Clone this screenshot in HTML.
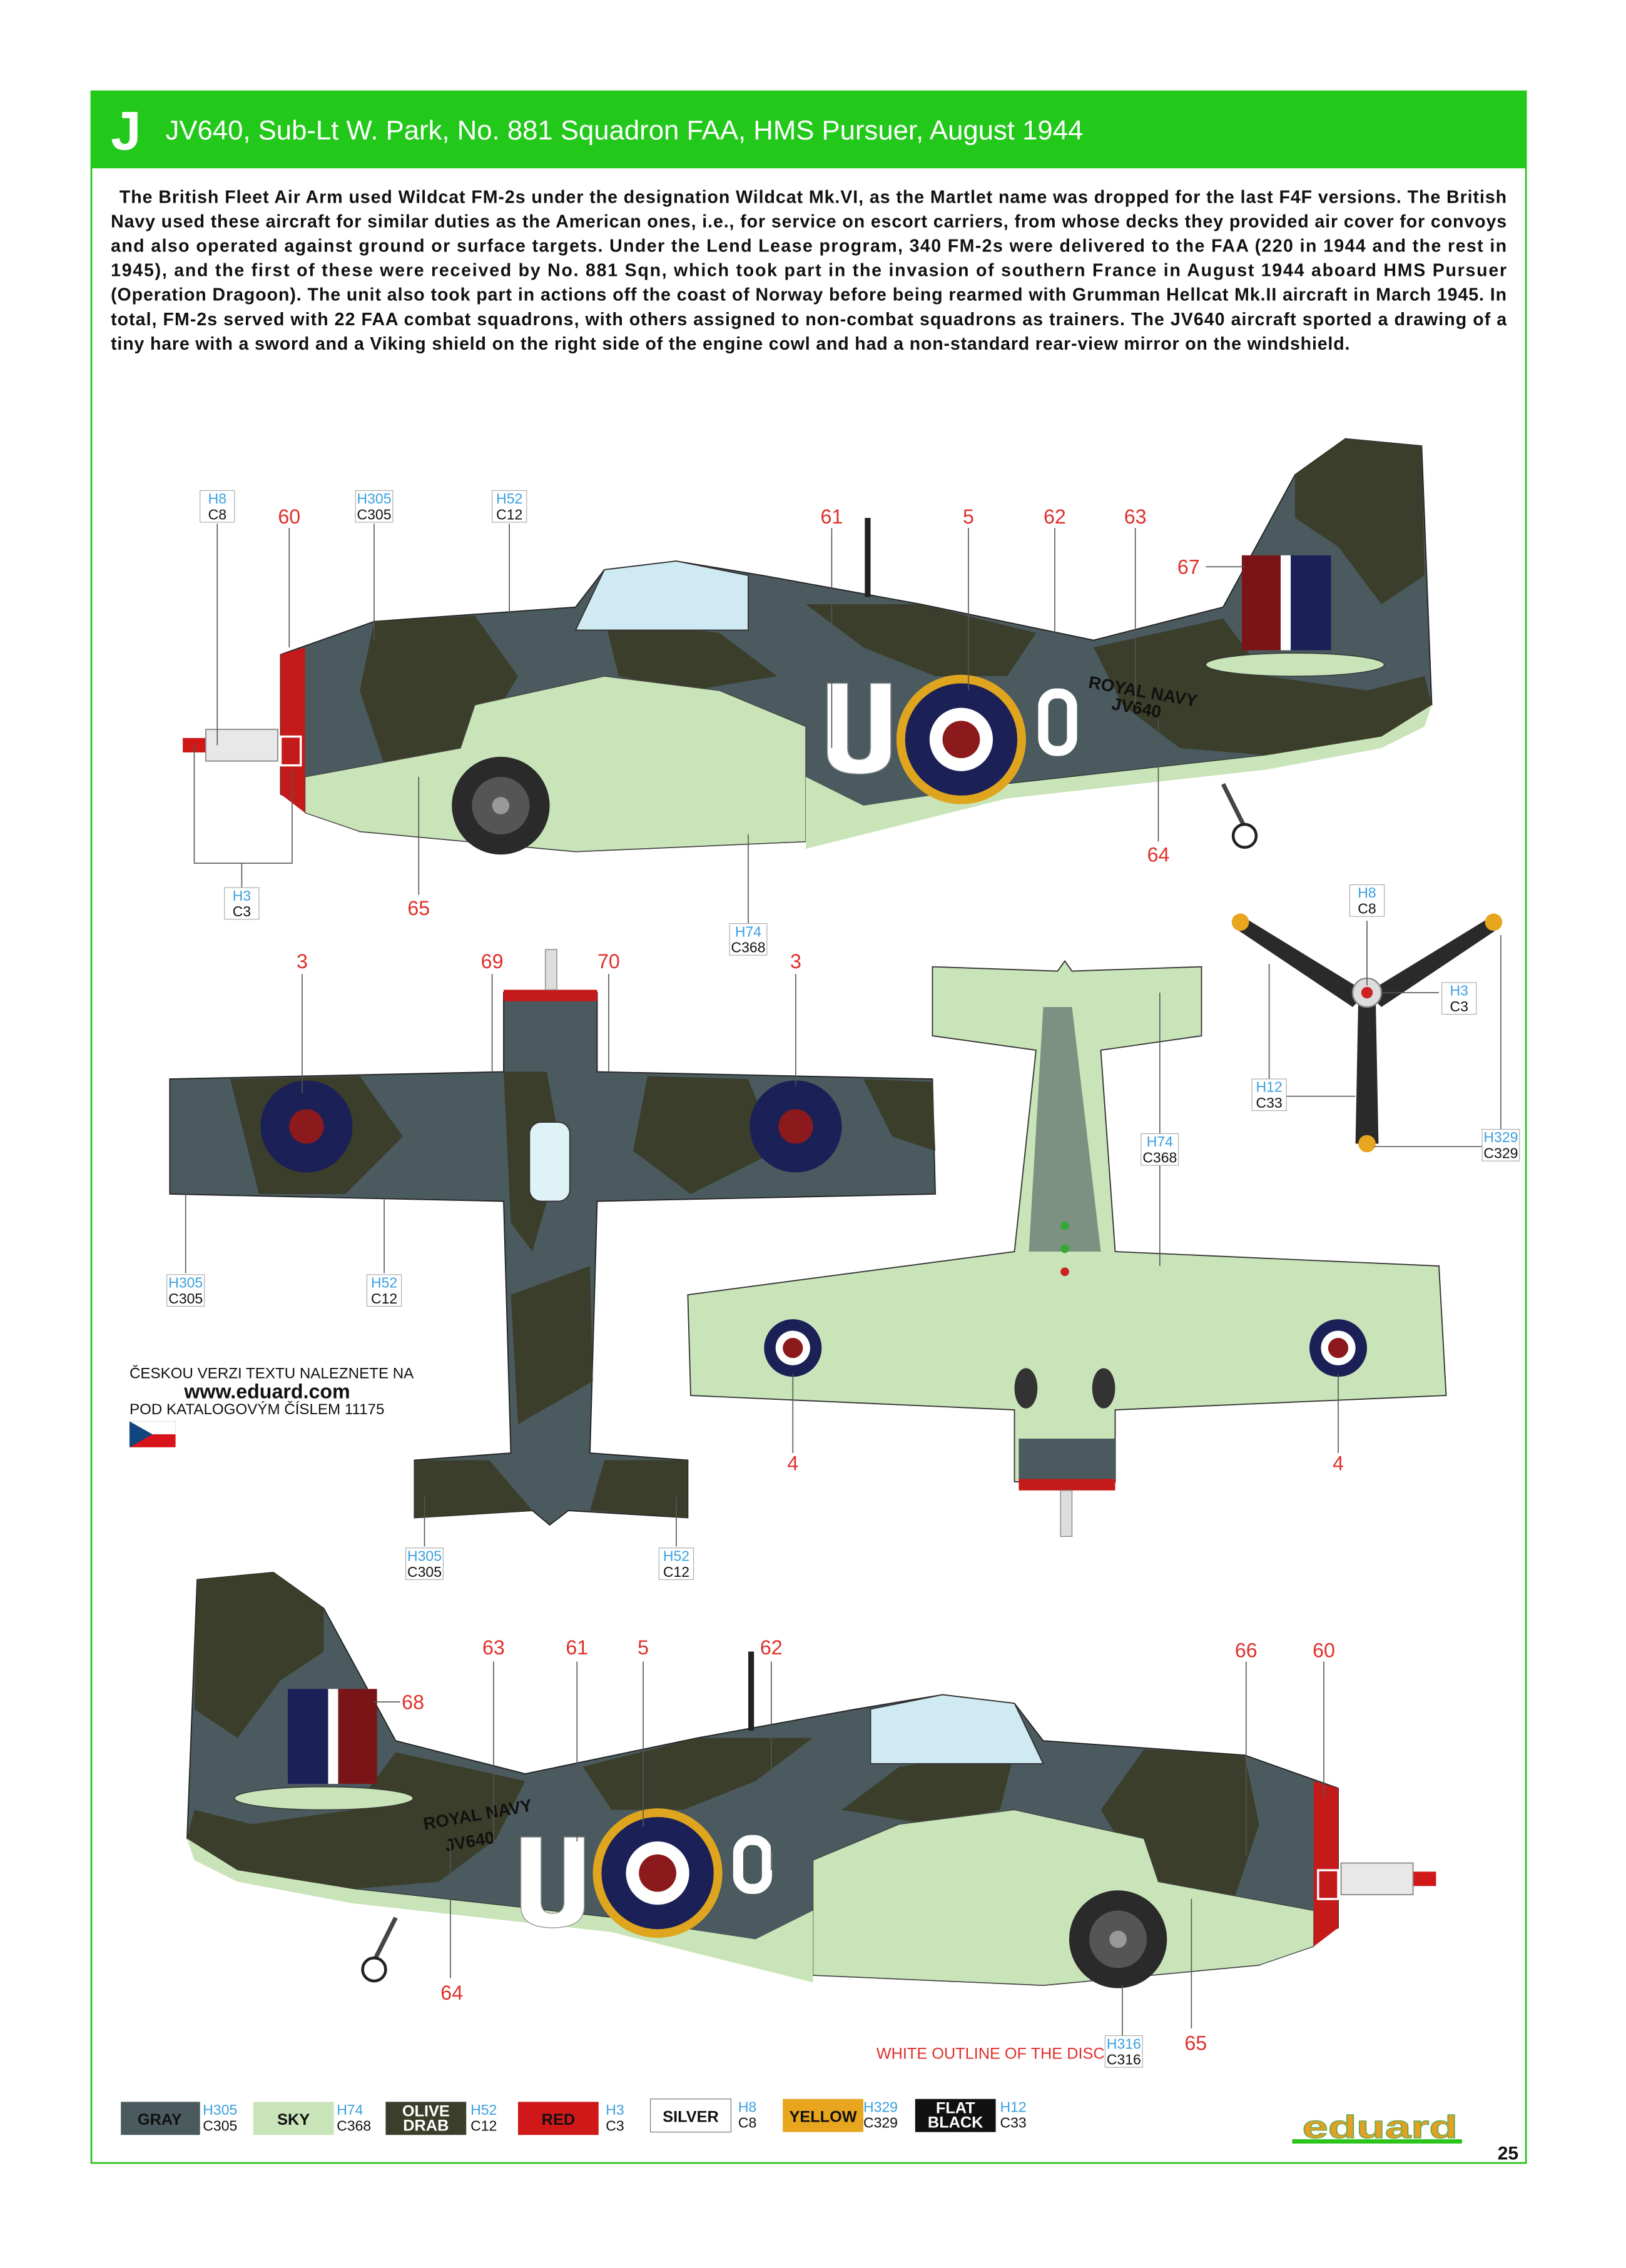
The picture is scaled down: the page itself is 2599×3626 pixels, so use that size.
<!DOCTYPE html>
<html><head><meta charset="utf-8"><style>
html,body{margin:0;padding:0;background:#fff}
svg{display:block}
text{font-family:"Liberation Sans",sans-serif}
</style></head><body>
<svg width="2599" height="3626" viewBox="0 0 1130 1576.5" preserveAspectRatio="none" xmlns="http://www.w3.org/2000/svg">
<defs>
<g id="roundel"><circle r="45" fill="#e0a51e"/><circle r="39" fill="#1b2156"/><circle r="22" fill="#fff"/><circle r="13" fill="#8c1a1c"/></g>
<g id="rnd2"><circle r="32" fill="#1b2156"/><circle r="12" fill="#8c1a1c"/></g>
<g id="rnd3"><circle r="20" fill="#1b2156"/><circle r="12" fill="#fff"/><circle r="7" fill="#8c1a1c"/></g>
<g id="side">
 <rect x="127" y="513" width="16" height="10" fill="#d01818"/>
 <rect x="143" y="507" width="50" height="22" fill="#e8e8e8" stroke="#888" stroke-width="0.8"/>
 <path d="M195 455 L260 432 L400 422 L420 396 L470 390 L530 400 L640 420 L760 445 L850 422 L900 330 L935 305 L988 310 L995 490 L960 512 L880 525 L700 545 L560 585 L400 592 L250 578 L195 552 Z" fill="#4b5a5f" stroke="#222" stroke-width="0.8"/>
 <path d="M935 305 L988 310 L990 400 L960 420 L930 380 L900 360 L900 330 Z" fill="#3b3e2a"/>
 <path d="M560 420 L640 420 L720 440 L700 470 L650 470 L600 450 Z" fill="#3b3e2a"/>
 <path d="M260 432 L330 428 L360 470 L330 520 L270 540 L250 480 Z" fill="#3b3e2a"/>
 <path d="M760 450 L850 430 L880 470 L950 480 L990 470 L995 490 L960 512 L880 525 L820 520 L780 490 Z" fill="#3b3e2a"/>
 <path d="M420 430 L500 440 L540 470 L480 480 L430 470 Z" fill="#3b3e2a"/>
 <path d="M400 438 L420 396 L470 390 L520 400 L520 438 Z" fill="#cfeaf2" stroke="#333" stroke-width="0.8"/>
 <path d="M212 540 L320 520 L330 490 L420 470 L500 480 L560 505 L560 585 L400 592 L250 578 L212 565 Z" fill="#c9e4b8" stroke="#444" stroke-width="0.6"/>
 <path d="M560 540 L600 560 L700 545 L880 525 L960 512 L995 490 L990 505 L960 520 L880 535 L700 555 L560 590 Z" fill="#c9e4b8"/>
 <path d="M195 455 L212 450 L212 565 L195 552 Z" fill="#c51a1a"/>
 <rect x="195" y="512" width="14" height="20" fill="none" stroke="#fff" stroke-width="1.5"/>
 <rect x="863" y="386" width="27" height="66" fill="#7a1517"/>
 <rect x="890" y="386" width="7" height="66" fill="#fff"/>
 <rect x="897" y="386" width="28" height="66" fill="#1b2156"/>
 <ellipse cx="900" cy="462" rx="62" ry="8" fill="#c9e4b8" stroke="#333" stroke-width="0.6"/>
 <rect x="601" y="360" width="4" height="55" fill="#222"/>
 <circle cx="348" cy="560" r="34" fill="#2a2a2a"/>
 <circle cx="348" cy="560" r="20" fill="#555"/>
 <circle cx="348" cy="560" r="6" fill="#999"/>
 <line x1="850" y1="545" x2="865" y2="575" stroke="#444" stroke-width="3"/>
 <circle cx="865" cy="581" r="8" fill="#fff" stroke="#222" stroke-width="2"/>
 <use href="#roundel" x="668" y="514"/>
</g>
</defs>

<rect width="1130" height="1576.5" fill="#fff"/>
<rect x="63.5" y="63.5" width="997" height="1440" fill="none" stroke="#2bc41a" stroke-width="1.2"/>
<rect x="63" y="63" width="998" height="54" fill="#22c81a"/>
<text x="77" y="104" font-size="38" font-weight="bold" fill="#fff">J</text>
<text x="115" y="97" font-size="19" fill="#fff">JV640, Sub-Lt W. Park, No. 881 Squadron FAA, HMS Pursuer, August 1944</text>

<g font-size="12.4" font-weight="bold" fill="#111">
<text x="83" y="141" textLength="964" lengthAdjust="spacing">The British Fleet Air Arm used Wildcat FM-2s under the designation Wildcat Mk.VI, as the Martlet name was dropped for the last F4F versions. The British</text>
<text x="77" y="158" textLength="970" lengthAdjust="spacing">Navy used these aircraft for similar duties as the American ones, i.e., for service on escort carriers, from whose decks they provided air cover for convoys</text>
<text x="77" y="175" textLength="970" lengthAdjust="spacing">and also operated against ground or surface targets. Under the Lend Lease program, 340 FM-2s were delivered to the FAA (220 in 1944 and the rest in</text>
<text x="77" y="192" textLength="970" lengthAdjust="spacing">1945), and the first of these were received by No. 881 Sqn, which took part in the invasion of southern France in August 1944 aboard HMS Pursuer</text>
<text x="77" y="209" textLength="970" lengthAdjust="spacing">(Operation Dragoon). The unit also took part in actions off the coast of Norway before being rearmed with Grumman Hellcat Mk.II aircraft in March 1945. In</text>
<text x="77" y="226" textLength="970" lengthAdjust="spacing">total, FM-2s served with 22 FAA combat squadrons, with others assigned to non-combat squadrons as trainers. The JV640 aircraft sported a drawing of a</text>
<text x="77" y="243" textLength="861" lengthAdjust="spacing">tiny hare with a sword and a Viking shield on the right side of the engine cowl and had a non-standard rear-view mirror on the windshield.</text>
</g>

<use href="#side"/>
<g fill="#fff" stroke="#999" stroke-width="0.6">
<path d="M575 475 h14 v45 q0 8 8 8 q8 0 8 -8 v-45 h14 v48 q0 15 -22 15 q-22 0 -22 -15 Z"/>
</g>
<rect x="725" y="482" width="20" height="40" rx="9" fill="none" stroke="#fff" stroke-width="7"/>
<text x="756" y="478" font-size="12" font-weight="bold" fill="#111" transform="rotate(10 756 478)">ROYAL NAVY</text>
<text x="772" y="493" font-size="12" font-weight="bold" fill="#111" transform="rotate(10 772 493)">JV640</text>

<g transform="translate(1125 788) scale(-1 1)"><use href="#side"/></g>
<g fill="#fff" stroke="#999" stroke-width="0.6">
<path d="M362 1277 h14 v45 q0 8 8 8 q8 0 8 -8 v-45 h14 v48 q0 15 -22 15 q-22 0 -22 -15 Z"/>
</g>
<rect x="513" y="1279" width="20" height="34" rx="9" fill="none" stroke="#fff" stroke-width="7"/>
<text x="295" y="1272" font-size="12" font-weight="bold" fill="#111" transform="rotate(-10 295 1272)">ROYAL NAVY</text>
<text x="310" y="1287" font-size="12" font-weight="bold" fill="#111" transform="rotate(-10 310 1287)">JV640</text>

<path d="M118 750 L350 745 L350 690 L415 690 L415 745 L648 750 L650 830 L415 835 L410 1010 L478 1015 L478 1055 L395 1050 L382 1060 L370 1050 L288 1055 L288 1015 L355 1010 L350 835 L118 830 Z" fill="#4b5a5f" stroke="#222" stroke-width="0.8"/>
<path d="M160 750 L250 748 L280 790 L240 830 L180 830 Z M450 748 L520 750 L540 800 L480 830 L440 800 Z M350 745 L380 745 L390 800 L370 870 L355 850 Z M355 900 L410 880 L412 960 L360 990 Z M288 1015 L340 1015 L370 1050 L288 1055 Z M420 1015 L478 1015 L478 1055 L410 1050 Z M600 750 L648 752 L650 800 L620 790 Z" fill="#3b3e2a"/>
<rect x="350" y="688" width="65" height="8" fill="#c51a1a"/>
<rect x="368" y="780" width="28" height="55" rx="8" fill="#dff2f5" stroke="#333" stroke-width="0.8"/>
<use href="#rnd2" x="213" y="783"/><use href="#rnd2" x="553" y="783"/>
<rect x="379" y="660" width="8" height="28" fill="#ddd" stroke="#888" stroke-width="0.6"/>

<path d="M648 672 L735 675 L740 668 L745 675 L835 672 L835 720 L765 730 L775 870 L1000 880 L1005 970 L775 980 L775 1030 L705 1030 L705 980 L480 970 L478 900 L705 870 L720 730 L648 720 Z" fill="#c9e4b8" stroke="#333" stroke-width="0.8"/>
<path d="M725 700 L745 700 L765 870 L715 870 Z" fill="#4b5a5f" opacity="0.6"/>
<rect x="708" y="1000" width="67" height="32" fill="#4b5a5f"/>
<rect x="708" y="1028" width="67" height="8" fill="#c51a1a"/>
<rect x="737" y="1036" width="8" height="32" fill="#ddd" stroke="#888" stroke-width="0.6"/>
<use href="#rnd3" x="551" y="937"/><use href="#rnd3" x="930" y="937"/>
<ellipse cx="713" cy="965" rx="8" ry="14" fill="#333"/><ellipse cx="767" cy="965" rx="8" ry="14" fill="#333"/>
<circle cx="740" cy="852" r="3" fill="#3a3"/><circle cx="740" cy="868" r="3" fill="#3a3"/><circle cx="740" cy="884" r="3" fill="#c22"/>

<g>
<path d="M950 690 L865 638 L858 645 L940 700 Z" fill="#2a2a2a"/>
<path d="M950 690 L1035 638 L1042 645 L960 700 Z" fill="#2a2a2a"/>
<path d="M944 692 L956 692 L958 795 L942 795 Z" fill="#2a2a2a"/>
<circle cx="862" cy="641" r="6" fill="#e8a51e"/><circle cx="1038" cy="641" r="6" fill="#e8a51e"/><circle cx="950" cy="795" r="6" fill="#e8a51e"/>
<circle cx="950" cy="690" r="10" fill="#ddd" stroke="#888"/><circle cx="950" cy="690" r="4" fill="#c22"/>
</g>

<g stroke="#555" stroke-width="0.7" fill="none">
<path d="M151 364 V518 M260 364 V445 M354 364 V430 M201 367 V450 M578 367 V520 M673 367 V480 M733 367 V445 M789 367 V490 M838 394 H865 M805 500 V585 M520 580 V642 M291 540 V622 M135 518 V600 H203 V535 M168 600 V618"/>
<path d="M210 677 V760 M342 677 V750 M423 677 V750 M553 677 V755 M129 820 V885 M267 830 V885 M295 1040 V1075 M470 1040 V1075 M806 690 V790 M806 810 V880 M551 955 V1010 M930 955 V1010"/>
<path d="M950 640 V685 M1000 690 H960 M882 670 V750 M893 762 H942 M1043 650 V790 M1030 797 H955"/>
<path d="M343 1155 V1290 M401 1155 V1280 M447 1155 V1270 M536 1155 V1300 M260 1183 H278 M866 1155 V1290 M920 1155 V1250 M313 1280 V1375 M828 1320 V1410 M780 1380 V1415"/>
</g>

<g font-size="14" fill="#e0302b" text-anchor="middle">
<text x="201" y="364">60</text><text x="578" y="364">61</text><text x="673" y="364">5</text><text x="733" y="364">62</text><text x="789" y="364">63</text><text x="826" y="399">67</text><text x="805" y="599">64</text><text x="291" y="636">65</text>
<text x="210" y="673">3</text><text x="342" y="673">69</text><text x="423" y="673">70</text><text x="553" y="673">3</text>
<text x="551" y="1022">4</text><text x="930" y="1022">4</text>
<text x="343" y="1150">63</text><text x="401" y="1150">61</text><text x="447" y="1150">5</text><text x="536" y="1150">62</text><text x="287" y="1188">68</text><text x="866" y="1152">66</text><text x="920" y="1152">60</text><text x="314" y="1390">64</text><text x="831" y="1425">65</text>
</g>
<text x="609" y="1431" font-size="11" fill="#e0302b">WHITE OUTLINE OF THE DISC</text>

<g font-size="10" text-anchor="middle">
<g transform="translate(151 352)"><rect x="-12" y="-11" width="24" height="22" fill="#fff" stroke="#aaa" stroke-width="0.5"/><text y="-2" fill="#3aa0e0">H8</text><text y="9" fill="#111">C8</text></g>
<g transform="translate(260 352)"><rect x="-13" y="-11" width="26" height="22" fill="#fff" stroke="#aaa" stroke-width="0.5"/><text y="-2" fill="#3aa0e0">H305</text><text y="9" fill="#111">C305</text></g>
<g transform="translate(354 352)"><rect x="-12" y="-11" width="24" height="22" fill="#fff" stroke="#aaa" stroke-width="0.5"/><text y="-2" fill="#3aa0e0">H52</text><text y="9" fill="#111">C12</text></g>
<g transform="translate(168 628)"><rect x="-12" y="-11" width="24" height="22" fill="#fff" stroke="#aaa" stroke-width="0.5"/><text y="-2" fill="#3aa0e0">H3</text><text y="9" fill="#111">C3</text></g>
<g transform="translate(520 653)"><rect x="-13" y="-11" width="26" height="22" fill="#fff" stroke="#aaa" stroke-width="0.5"/><text y="-2" fill="#3aa0e0">H74</text><text y="9" fill="#111">C368</text></g>
<g transform="translate(950 626)"><rect x="-12" y="-11" width="24" height="22" fill="#fff" stroke="#aaa" stroke-width="0.5"/><text y="-2" fill="#3aa0e0">H8</text><text y="9" fill="#111">C8</text></g>
<g transform="translate(1014 694)"><rect x="-12" y="-11" width="24" height="22" fill="#fff" stroke="#aaa" stroke-width="0.5"/><text y="-2" fill="#3aa0e0">H3</text><text y="9" fill="#111">C3</text></g>
<g transform="translate(882 761)"><rect x="-12" y="-11" width="24" height="22" fill="#fff" stroke="#aaa" stroke-width="0.5"/><text y="-2" fill="#3aa0e0">H12</text><text y="9" fill="#111">C33</text></g>
<g transform="translate(1043 796)"><rect x="-13" y="-11" width="26" height="22" fill="#fff" stroke="#aaa" stroke-width="0.5"/><text y="-2" fill="#3aa0e0">H329</text><text y="9" fill="#111">C329</text></g>
<g transform="translate(806 799)"><rect x="-13" y="-11" width="26" height="22" fill="#fff" stroke="#aaa" stroke-width="0.5"/><text y="-2" fill="#3aa0e0">H74</text><text y="9" fill="#111">C368</text></g>
<g transform="translate(129 897)"><rect x="-13" y="-11" width="26" height="22" fill="#fff" stroke="#aaa" stroke-width="0.5"/><text y="-2" fill="#3aa0e0">H305</text><text y="9" fill="#111">C305</text></g>
<g transform="translate(267 897)"><rect x="-12" y="-11" width="24" height="22" fill="#fff" stroke="#aaa" stroke-width="0.5"/><text y="-2" fill="#3aa0e0">H52</text><text y="9" fill="#111">C12</text></g>
<g transform="translate(295 1087)"><rect x="-13" y="-11" width="26" height="22" fill="#fff" stroke="#aaa" stroke-width="0.5"/><text y="-2" fill="#3aa0e0">H305</text><text y="9" fill="#111">C305</text></g>
<g transform="translate(470 1087)"><rect x="-12" y="-11" width="24" height="22" fill="#fff" stroke="#aaa" stroke-width="0.5"/><text y="-2" fill="#3aa0e0">H52</text><text y="9" fill="#111">C12</text></g>
<g transform="translate(781 1426)"><rect x="-13" y="-11" width="26" height="22" fill="#fff" stroke="#aaa" stroke-width="0.5"/><text y="-2" fill="#3aa0e0">H316</text><text y="9" fill="#111">C316</text></g>
</g>

<text x="90" y="958" font-size="10.5" fill="#111">ČESKOU VERZI TEXTU NALEZNETE NA</text>
<text x="128" y="972" font-size="14" font-weight="bold" fill="#111">www.eduard.com</text>
<text x="90" y="983" font-size="10.5" fill="#111">POD KATALOGOVÝM ČÍSLEM 11175</text>
<rect x="90" y="988" width="32" height="9" fill="#fff" stroke="#ddd" stroke-width="0.4"/>
<rect x="90" y="997" width="32" height="9" fill="#d7141a"/>
<path d="M90 988 L106 997 L90 1006 Z" fill="#11457e"/>

<g font-size="11" font-weight="bold" text-anchor="middle">
<rect x="84" y="1461" width="55" height="23" fill="#4b5a5f"/><text x="111" y="1477" fill="#111">GRAY</text>
<rect x="176" y="1461" width="56" height="23" fill="#c9e4b8"/><text x="204" y="1477" fill="#111">SKY</text>
<rect x="268" y="1461" width="56" height="23" fill="#3b3e2a"/><text x="296" y="1471" fill="#fff">OLIVE</text><text x="296" y="1481" fill="#fff">DRAB</text>
<rect x="360" y="1461" width="56" height="23" fill="#d01818"/><text x="388" y="1477" fill="#111">RED</text>
<rect x="452" y="1459" width="56" height="23" fill="#fff" stroke="#888" stroke-width="0.6"/><text x="480" y="1475" fill="#111">SILVER</text>
<rect x="544" y="1459" width="56" height="23" fill="#e8a51e"/><text x="572" y="1475" fill="#111">YELLOW</text>
<rect x="636" y="1459" width="56" height="23" fill="#111"/><text x="664" y="1469" fill="#fff">FLAT</text><text x="664" y="1479" fill="#fff">BLACK</text>
</g>
<g font-size="10">
<text x="141" y="1470" fill="#3aa0e0">H305</text><text x="141" y="1481" fill="#111">C305</text>
<text x="234" y="1470" fill="#3aa0e0">H74</text><text x="234" y="1481" fill="#111">C368</text>
<text x="327" y="1470" fill="#3aa0e0">H52</text><text x="327" y="1481" fill="#111">C12</text>
<text x="421" y="1470" fill="#3aa0e0">H3</text><text x="421" y="1481" fill="#111">C3</text>
<text x="513" y="1468" fill="#3aa0e0">H8</text><text x="513" y="1479" fill="#111">C8</text>
<text x="600" y="1468" fill="#3aa0e0">H329</text><text x="600" y="1479" fill="#111">C329</text>
<text x="695" y="1468" fill="#3aa0e0">H12</text><text x="695" y="1479" fill="#111">C33</text>
</g>
<text x="905" y="1486" font-size="22" font-weight="bold" fill="#e6a020" stroke="#6a5" stroke-width="0.6" textLength="108" lengthAdjust="spacingAndGlyphs">eduard</text>
<rect x="898" y="1487" width="118" height="3" fill="#2bc41a"/>
<text x="1048" y="1501" font-size="13" font-weight="bold" fill="#111" text-anchor="middle">25</text>
</svg>
</body></html>
